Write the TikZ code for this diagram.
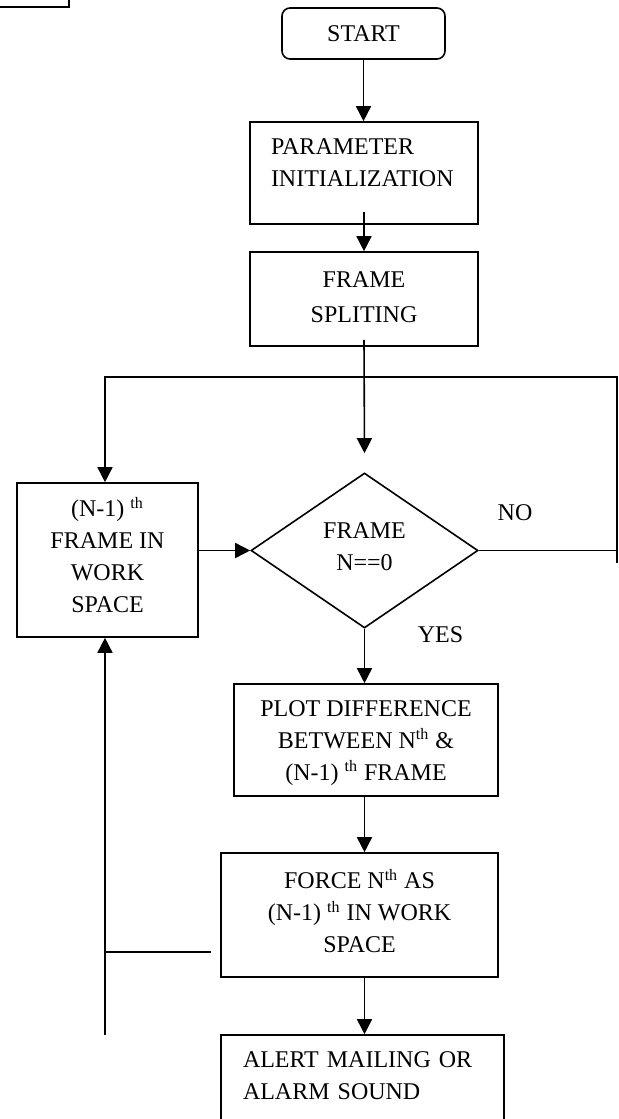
\documentclass[tikz,border=0pt]{standalone}
\usepackage{fontspec}
\setmainfont{Liberation Serif}
\usepackage{tikz}
\usetikzlibrary{arrows.meta}
\usetikzlibrary{shapes.geometric}

\begin{document}
\begin{tikzpicture}[x=0.5pt, y=-0.5pt, line width=0.8pt,
  every node/.style={font=\fontsize{12pt}{16pt}\selectfont},
  box/.style={draw, rectangle, align=center, inner sep=2pt},
  arr/.style={-{Triangle[width=7.5pt,length=7.5pt]}}]
  \useasboundingbox (0,0) rectangle (618,1119);
  \clip (0,0) rectangle (618,1119);

  \draw (0,7) -| (69,-2);

  \node[box, rounded corners=4pt, minimum width=81.5pt, minimum height=25.5pt] (start) at (363.5,33.5) {START};
  \node[box, align=left, text width=93pt, inner xsep=10.5pt, minimum height=51pt] (param) at (364,173) {PARAMETER\\INITIALIZATION\\[-5.5pt]\mbox{}};
  \node[box, minimum width=114pt, minimum height=47pt] (split) at (364,299) {FRAME\\[1.5pt]SPLITING\\[-14pt]\mbox{}};
  \node[draw, diamond, aspect=1.46, inner sep=0pt, minimum width=113.5pt, minimum height=77.5pt, align=center] (test) at (364.5,550.5) {FRAME\\N==0\\[-12pt]\mbox{}};
  \node[box, minimum width=90.5pt, minimum height=77pt] (prev) at (107.5,560) {(N-1) \textsuperscript{th}\\FRAME IN\\WORK\\SPACE\\[-11pt]\mbox{}};
  \node[box, minimum width=132pt, minimum height=56pt] (plot) at (366,740) {\mbox{}\\[-5pt]PLOT DIFFERENCE\\BETWEEN N\textsuperscript{th} \&\\(N-1) \textsuperscript{th} FRAME};
  \node[box, minimum width=138.5pt, minimum height=62pt] (force) at (359.5,915) {FORCE N\textsuperscript{th} AS\\(N-1) \textsuperscript{th} IN WORK\\SPACE\\[-12pt]\mbox{}};
  \node[box, align=left, text width=119.5pt, inner xsep=11pt, minimum height=55pt] (alert) at (362.5,1090) {ALERT MAILING OR\\ALARM SOUND\\[-2pt]\mbox{}};
  \node (no) at (515,513) {NO};
  \node (yes) at (440.5,635) {YES};

  \coordinate (ltop) at (105,377);
  \coordinate (rtop) at (617,377);
  \coordinate (rbot) at (617,563);
  \coordinate (lbot) at (105,1035);
  \coordinate (fback) at ([xshift=-4.5pt,yshift=-18.5pt]force.west);

  \path[arr] (start) edge (start |- param.north);
  \path[arr] ([yshift=6.5pt]param.south) edge (split);
  \path[arr] ([yshift=3.5pt]split.south) edge ([yshift=9.5pt]test.north);
  \path[arr] (prev.east |- test.west) edge (test.west);
  \path[arr] (test.south) edge (test.south |- plot.north);
  \path[arr] (plot.south -| test.south) edge (force.north -| test.south);
  \path[arr] (force.south -| test.south) edge (alert.north -| test.south);

  \draw (test.east) -- (test.east -| rbot);
  \draw[arr] (rbot) -- (rtop) -- (ltop) -- (prev.north -| ltop);
  \draw[arr] (lbot) -- (prev.south -| lbot);
  \draw (fback) -- (fback -| lbot);
\end{tikzpicture}
\end{document}
